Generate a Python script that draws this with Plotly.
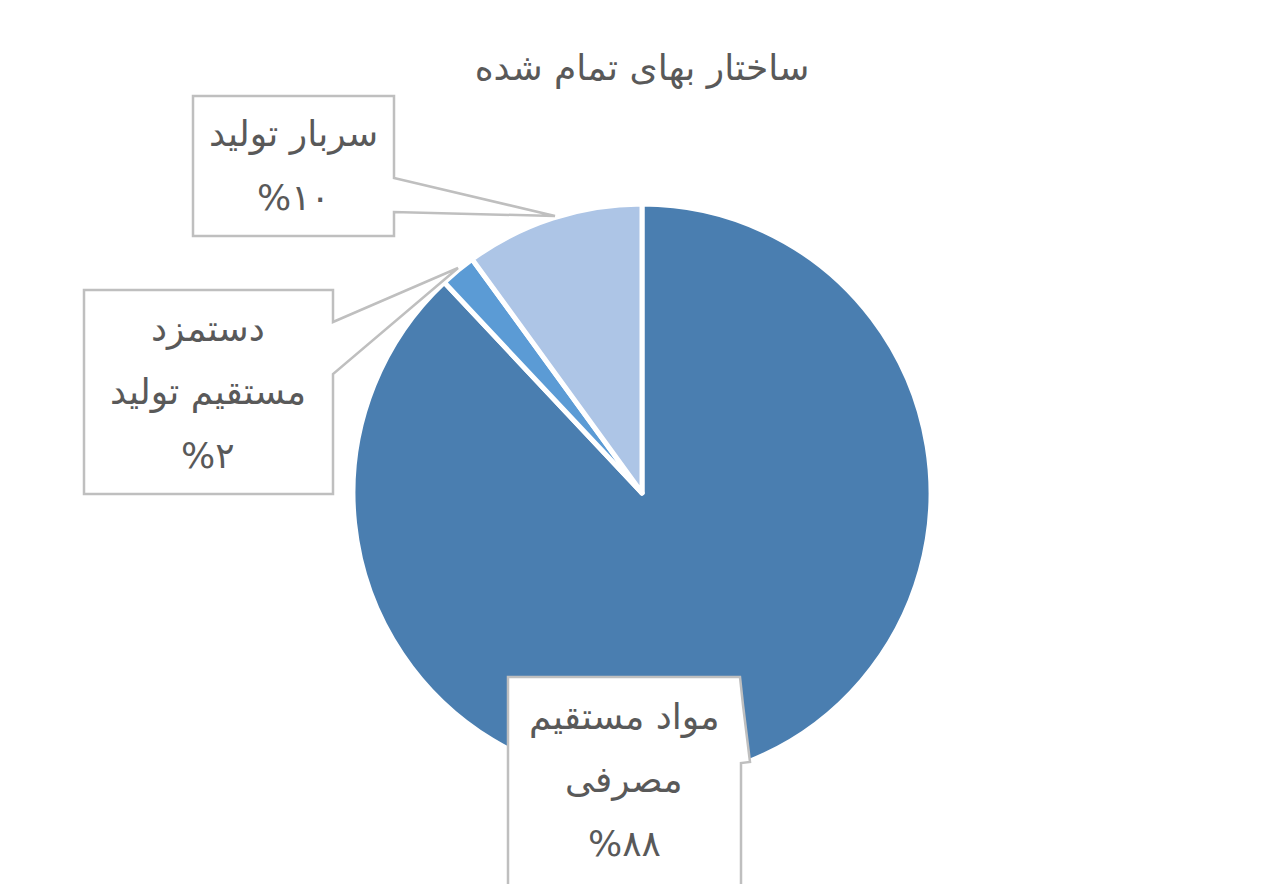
import plotly.graph_objects as go

# Data
labels = ['مواد مستقیم مصرفی', 'دستمزد مستقیم تولید', 'سربار تولید']
values = [88, 2, 10]
colors = ['#4a7eb0', '#5b9bd5', '#adc5e6']
# label lines as shown in the callout boxes
label_lines = [['مواد مستقیم', 'مصرفی'], ['دستمزد', 'مستقیم تولید'], ['سربار تولید']]
pct_text = ['%۸۸', '%۲', '%۱۰']

W, H = 1284, 884
OFF = 8  # page body margin in the browser
FONT = 'DejaVu Sans'
GREY = '#595959'


def px(x, y):
    # pixel (as seen on the page) -> paper coords
    return (x - OFF) / W, 1 - (y - OFF) / H


def poly(points):
    pts = [px(x, y) for x, y in points]
    return 'M ' + ' L '.join(f'{a:.5f},{b:.5f}' for a, b in pts) + ' Z'


R = 289
x0, y1 = px(642 - R, 493 - R)
x1, y0 = px(642 + R, 493 + R)

fig = go.Figure()
fig.add_trace(go.Pie(
    labels=labels, values=values, sort=False, direction='clockwise', rotation=0,
    marker=dict(colors=colors, line=dict(color='white', width=5)),
    textinfo='none', hoverinfo='label+percent', showlegend=False,
    domain=dict(x=[x0, x1], y=[y0, y1]),
))

# callout boxes (box outline + wedge pointing to slice)
boxes = [
    # مواد مستقیم مصرفی
    [(508, 677), (740, 677), (743, 705), (750, 762), (741, 763), (741, 900), (508, 900)],
    # دستمزد مستقیم تولید
    [(84, 290), (333, 290), (333, 322), (458, 268), (333, 374), (333, 494), (84, 494)],
    # سربار تولید
    [(193, 96), (394, 96), (394, 178), (555, 216), (394, 212), (394, 236), (193, 236)],
]
box_center_x = [624, 208, 293]
box_first_y = [717, 329, 134]
line_gap = 63

shapes = []
annotations = []
for i in range(len(labels)):
    shapes.append(dict(type='path', xref='paper', yref='paper', path=poly(boxes[i]),
                       fillcolor='white', line=dict(color='#bfbfbf', width=2.5)))
    lines = label_lines[i] + [pct_text[i]]
    for j, t in enumerate(lines):
        x, y = px(box_center_x[i], box_first_y[i] + j * line_gap)
        annotations.append(dict(text=t, x=x, y=y, xref='paper', yref='paper', showarrow=False,
                                xanchor='center', yanchor='middle',
                                font=dict(family=FONT, size=36, color=GREY)))

tx, ty = px(642, 67)
fig.update_layout(
    width=W, height=H,
    margin=dict(l=0, r=0, t=0, b=0),
    paper_bgcolor='white', plot_bgcolor='white',
    title=dict(text='ساختار بهای تمام شده', x=tx, xanchor='center', y=ty, yanchor='middle',
               font=dict(family=FONT, size=36, color=GREY)),
    shapes=shapes,
    annotations=annotations,
)

fig.write_html('out.html')
